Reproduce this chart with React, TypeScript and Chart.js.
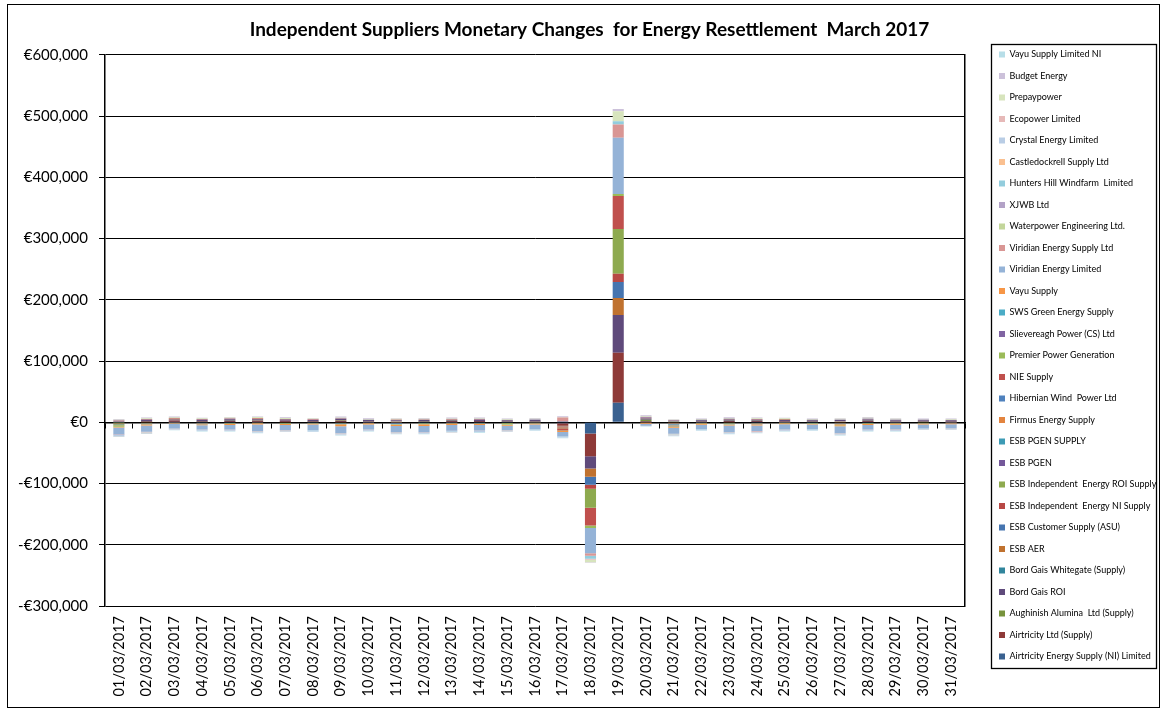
import { useEffect, useRef } from 'react';
import { Chart, registerables } from 'chart.js';

Chart.register(...registerables);

const dates = [
  '01/03/2017', '02/03/2017', '03/03/2017', '04/03/2017', '05/03/2017', '06/03/2017', '07/03/2017', '08/03/2017',
  '09/03/2017', '10/03/2017', '11/03/2017', '12/03/2017', '13/03/2017', '14/03/2017', '15/03/2017', '16/03/2017',
  '17/03/2017', '18/03/2017', '19/03/2017', '20/03/2017', '21/03/2017', '22/03/2017', '23/03/2017', '24/03/2017',
  '25/03/2017', '26/03/2017', '27/03/2017', '28/03/2017', '29/03/2017', '30/03/2017', '31/03/2017',
];

const yMin = -300000;
const yMax = 600000;
const yStep = 100000;

const titleText = 'Independent Suppliers Monetary Changes  for Energy Resettlement  March 2017';

// series values (EUR), one value per day
const airtricityNI = [-300, 400, 200, 500, 300, 200, 400, 300, 500, 200, -400, 300, 200, 400, 300, 200, -1500, -18500, 32000, 300, -800, 200, 400, 300, 200, 300, -600, 400, 200, 300, 200];
const airtricityLtd = [1200, 1400, 2500, 1300, 1800, 2200, 1900, 1200, 2000, 1000, 1300, 1100, 1800, 1500, 900, 1200, -4000, -37000, 81500, 1500, 900, 1200, 1600, 1700, 1300, 1100, 1400, 1500, 1200, 1000, 900];
const aughinish = [-1500, 300, 200, 300, 400, 300, 300, 500, 600, 300, 200, 500, 300, 200, 400, 300, 0, 0, 0, 2500, 200, 300, 500, 400, 300, 400, 300, 500, 400, 300, 300];
const bordGaisROI = [1000, 2200, 1800, 2000, 2600, 2200, 2000, 1800, 2600, 2000, 1700, 1800, 1500, 2100, 1500, 1800, 1500, -20000, 61500, 2000, 1500, 1400, 2200, 1600, 2000, 1400, 2000, 2200, 1500, 1600, 1700];
const bordGaisWhitegate = [0, 0, 0, 0, 0, 0, 0, 0, 0, 0, 0, 0, 0, 0, 0, 0, 0, 0, 0, 0, 0, 0, 0, 0, 0, 0, 0, 0, 0, 0, 0];
const esbAER = [-800, -1000, 1200, -900, -700, 800, -1000, -600, -1200, -800, -1000, -900, -700, -800, -900, -600, -1000, -13600, 28000, -500, -1200, -800, -1000, -900, 600, -700, -1100, -800, -700, -600, -500];
const esbCustomer = [-500, -600, -400, -700, -500, -600, -400, -500, -800, -300, -1200, -600, -500, -700, -400, -300, -600, -13000, 26000, -300, -1500, -400, -500, -600, -500, -400, -900, -500, -400, -300, -400];
const esbIndNI = [300, 200, 400, 300, 200, 400, 300, 200, 300, 200, 300, 200, 400, 300, 200, 300, -1500, -6500, 13600, 200, 300, 200, 300, 500, 200, 300, 200, 300, 200, 300, 200];
const esbIndROI = [-2000, -400, -300, -500, -400, -600, -500, -400, -1000, -300, -800, -1500, -600, -500, -1200, -400, -1000, -31000, 73000, 600, -700, -500, -900, -600, -500, -400, -800, -600, -700, -500, -400];
const esbPGEN = [0, 200, 0, 300, 200, 0, 100, 200, 300, 0, 200, 0, 100, 300, 0, 200, 0, 0, 0, 300, 0, 200, 100, 0, 200, 0, 100, 300, 0, 100, 0];
const esbPGENSupply = [0, 0, 0, 0, 0, 0, 0, 0, 0, 0, 0, 0, 0, 0, 0, 0, 0, 0, 0, 0, -800, 0, 0, 0, 0, 0, 0, 0, 0, 0, 0];
const firmus = [-300, -500, -400, -600, -400, -500, -300, -400, -500, -300, -400, -600, -500, -400, -300, -500, 0, 0, 0, -200, -600, -400, -500, -600, -400, -300, -500, -400, -300, -400, -300];
const hibernian = [0, 0, 0, 0, 0, 0, 0, 0, 0, 0, 0, 0, 0, 0, 0, 0, 0, 0, 0, 0, -500, 0, 0, 0, 0, 0, 0, 0, 0, 0, 0];
const nieSupply = [-400, 300, 200, 200, 300, 400, 200, 300, -300, 200, 300, 200, 300, 400, 200, 300, -4000, -28800, 54000, 200, -600, 200, 300, 400, 200, 300, -500, 200, 300, 200, 200];
const premierPower = [-1500, -300, -200, -300, -400, -300, -200, -300, -500, -200, -400, -300, -200, -300, -1000, -300, -500, -4300, 3000, 300, -500, -300, -400, -300, -200, -300, -400, -300, -200, -300, -200];
const slievereagh = [300, 400, 300, 300, 500, 400, 300, 300, 400, 300, 300, 400, 300, 300, 200, 300, 300, 0, 0, 500, 200, 300, 400, 300, 300, 200, 300, 400, 300, 200, 300];
const swsGreen = [-200, -300, -200, -200, -300, -200, -300, -200, -300, -200, -300, -200, -200, -300, -200, -200, -200, 0, 0, -100, -400, -200, -300, -200, -200, -300, -200, -200, -300, -200, -200];
const vayuSupply = [-1000, -2000, -1500, -1800, -1600, -1500, -1800, -1400, -1700, -1500, -1600, -1800, -1700, -1500, -1600, -1400, -1500, 0, 0, -1200, -1500, -1600, -1700, -2000, -1500, -1400, -1600, -1500, -1400, -1300, -1200];
const viridianEnergy = [-11300, -10300, -7300, -6900, -7600, -10600, -8300, -9100, -11200, -8400, -9800, -10200, -9400, -9100, -7100, -7500, -7400, -41000, 92000, -3500, -9700, -7000, -10600, -9200, -8600, -7400, -10900, -7700, -7700, -6400, -6700];
const viridianSupply = [-800, -400, -300, -400, -300, -500, -400, -300, -500, -300, -400, -500, -400, -300, -400, -300, 6000, -4300, 21700, -200, -500, -300, -400, -500, -300, -400, -500, -300, -400, -300, -300];
const waterpower = [400, 300, 500, 400, 300, 400, 500, 300, 400, 300, 400, 300, 400, 300, 500, 300, 300, 0, 0, 800, 300, 400, 300, 400, 300, 400, 300, 400, 500, 300, 400];
const xjwb = [300, 200, 300, 200, 300, 200, 300, 200, 300, 200, 300, 200, 300, 200, 300, 200, 200, 0, 0, 300, 200, 300, 200, 300, 200, 300, 200, 300, 200, 300, 200];
const huntersHill = [-300, -200, -300, -200, -300, -200, -300, -200, -300, -200, -300, -200, -300, -200, -300, -200, -300, -5000, 5400, -100, -300, -200, -300, -200, -300, -200, -300, -200, -300, -200, -200];
const castledockrell = [0, -200, 0, -100, 0, -200, 0, -100, 0, -200, 0, -100, 0, -200, 0, -100, 0, 0, 0, 0, -200, 0, -100, 0, -200, 0, -100, 0, -200, 0, -100];
const crystal = [-1500, -1400, -1000, -1200, -1300, -1500, -1200, -1400, -1600, -1200, -1500, -1400, -1300, -1500, -1200, -1100, -1500, 0, 0, -500, -1600, -1200, -1500, -1400, -1200, -1100, -1600, -1300, -1200, -1000, -1100];
const ecopower = [-600, -200, -300, -200, -300, -200, -300, -200, -400, -200, -300, -200, -300, -200, -300, -200, 0, -1500, 0, 0, -400, -200, -300, -400, -200, -300, -300, -200, -300, -200, -200];
const prepaypower = [800, 700, 900, 700, 800, 900, 800, 700, 900, 800, 700, 800, 900, 700, 800, 700, 0, -4000, 16000, 900, 600, 700, 800, 700, 800, 700, 800, 900, 800, 700, 800];
const budgetEnergy = [900, 1000, 1100, 900, 1000, 1200, 1100, 900, 1100, 1000, 900, 1000, 1100, 900, 800, 1000, 1500, -1000, 4000, 1000, 800, 900, 1000, 1100, 900, 800, 1000, 1100, 900, 800, 900];
const vayuNI = [-1000, -1200, -800, -1000, -900, -1100, -1000, -900, -1200, -900, -1100, -1000, -900, -1000, -1100, -900, -1000, 1000, 0, -400, -1200, -900, -1000, -1100, -900, -800, -1200, -1000, -900, -800, -700];

const seriesNames = [
  'Airtricity Energy Supply (NI) Limited', 'Airtricity Ltd (Supply)', 'Aughinish Alumina  Ltd (Supply)', 'Bord Gais ROI',
  'Bord Gais Whitegate (Supply)', 'ESB AER', 'ESB Customer Supply (ASU)', 'ESB Independent  Energy NI Supply',
  'ESB Independent  Energy ROI Supply', 'ESB PGEN', 'ESB PGEN SUPPLY', 'Firmus Energy Supply', 'Hibernian Wind  Power Ltd',
  'NIE Supply', 'Premier Power Generation', 'Slievereagh Power (CS) Ltd', 'SWS Green Energy Supply', 'Vayu Supply',
  'Viridian Energy Limited', 'Viridian Energy Supply Ltd', 'Waterpower Engineering Ltd.', 'XJWB Ltd',
  'Hunters Hill Windfarm  Limited', 'Castledockrell Supply Ltd', 'Crystal Energy Limited', 'Ecopower Limited',
  'Prepaypower', 'Budget Energy', 'Vayu Supply Limited NI',
];

const seriesValues = [
  airtricityNI, airtricityLtd, aughinish, bordGaisROI, bordGaisWhitegate, esbAER, esbCustomer, esbIndNI, esbIndROI,
  esbPGEN, esbPGENSupply, firmus, hibernian, nieSupply, premierPower, slievereagh, swsGreen, vayuSupply,
  viridianEnergy, viridianSupply, waterpower, xjwb, huntersHill, castledockrell, crystal, ecopower, prepaypower,
  budgetEnergy, vayuNI,
];

const seriesColors = [
  '#3A6190', '#8E3A38', '#77933C', '#5F4A7B', '#31859C', '#C0722F',
  '#4675B0', '#B84845', '#8EAA4F', '#74589A', '#3D9BB5', '#E3843F',
  '#4F81BD', '#C0504D', '#9BBB59', '#8064A2', '#4BACC6', '#F79646',
  '#95B3D7', '#D99694', '#C3D69B', '#B3A2C7', '#93CDDD', '#FAC090',
  '#B9CDE5', '#E6B9B8', '#D7E4BD', '#CCC1DA', '#B7DEE8',
];

const FONT = 'Lato, "Open Sans", sans-serif';

const framePlugin = {
  id: 'frame',
  afterLayout(chart: any) {
    // centre the title slightly right of the canvas centre, as in the original
    const tb = chart.titleBlock;
    if (tb) {
      tb.left += 14;
    }
  },
  afterDraw(chart: any) {
    const ctx = chart.ctx;
    ctx.save();
    ctx.strokeStyle = '#000';
    ctx.lineWidth = 1;
    ctx.strokeRect(7.5, 4.5, chart.width - 9, chart.height - 6);
    const lg = chart.legend;
    const hb = lg && lg.legendHitBoxes;
    if (hb && hb.length) {
      const top = Math.round(hb[0].top - 6) + 0.5;
      const last = hb[hb.length - 1];
      const bottom = Math.round(last.top + last.height + 7) + 0.5;
      const left = Math.round(lg.left + 4) + 0.5;
      const right = Math.round(lg.right - 1) + 0.5;
      ctx.lineWidth = 1.3;
      ctx.strokeRect(left, top, right - left, bottom - top);
    }
    ctx.restore();
  },
};

export default function App() {
  const ref = useRef<HTMLCanvasElement | null>(null);

  useEffect(() => {
    document.body.style.margin = '0';
    const canvas = ref.current;
    if (!canvas) return;
    Chart.defaults.font.family = FONT;
    const chart = new Chart(canvas, {
      type: 'bar',
      data: {
        labels: dates,
        datasets: seriesNames.map((name, i) => ({
          label: name,
          data: seriesValues[i],
          backgroundColor: seriesColors[i],
          borderWidth: 0,
          barPercentage: 0.4,
          categoryPercentage: 1,
        })),
      },
      options: {
        animation: false,
        responsive: false,
        maintainAspectRatio: false,
        layout: { padding: { top: 8, bottom: 6, left: 8, right: 4 } },
        plugins: {
          title: {
            display: true,
            text: titleText,
            color: '#000',
            font: { family: FONT, size: 19, weight: 'bold' },
            padding: { top: 10, bottom: 14 },
          },
          legend: {
            display: true,
            position: 'right',
            reverse: true,
            maxWidth: 170.5,
            labels: {
              color: '#000',
              font: { family: FONT, size: 9 },
              boxWidth: 6,
              boxHeight: 6,
              padding: 12.5,
            },
          },
          tooltip: { enabled: false },
        },
        scales: {
          x: {
            stacked: true,
            position: 'bottom',
            grid: { display: false, drawTicks: false },
            border: { display: false },
            ticks: {
              color: '#000',
              font: { family: FONT, size: 14.5 },
              maxRotation: 90,
              minRotation: 90,
              autoSkip: false,
              padding: 10,
            },
            afterFit: (s: any) => { s.height = 97; },
          },
          x2: {
            type: 'category',
            labels: dates,
            position: { y: 0 },
            offset: true,
            grid: { display: true, offset: true, drawOnChartArea: false, drawTicks: true, tickLength: 5, color: '#000' },
            border: { display: true, color: '#000', width: 1.5 },
            ticks: { display: false },
          },
          y: {
            stacked: true,
            position: 'left',
            min: yMin,
            max: yMax,
            grid: { color: '#000', lineWidth: 1, drawTicks: true, tickLength: 6 },
            border: { display: true, color: '#000', width: 1.5 },
            ticks: {
              stepSize: yStep,
              color: '#000',
              font: { family: FONT, size: 15 },
              padding: 11,
              callback: (v: any) => {
                const n = Number(v);
                const s = Math.abs(n).toLocaleString('en-US');
                return n < 0 ? '-€' + s : '€' + s;
              },
            },
            afterFit: (s: any) => { s.width = 97; },
          },
          yR: {
            type: 'linear',
            position: 'right',
            display: true,
            grid: { display: false, drawTicks: false },
            border: { display: true, color: '#000', width: 1.5 },
            ticks: { display: false },
            afterFit: (s: any) => { s.width = 21.5; },
          },
        },
      },
      plugins: [framePlugin],
    } as any);
    return () => chart.destroy();
  }, []);

  return (
    <div style={{ width: 1161, height: 709 }}>
      <canvas ref={ref} width={1161} height={709} style={{ display: 'block', width: 1161, height: 709 }} />
    </div>
  );
}
